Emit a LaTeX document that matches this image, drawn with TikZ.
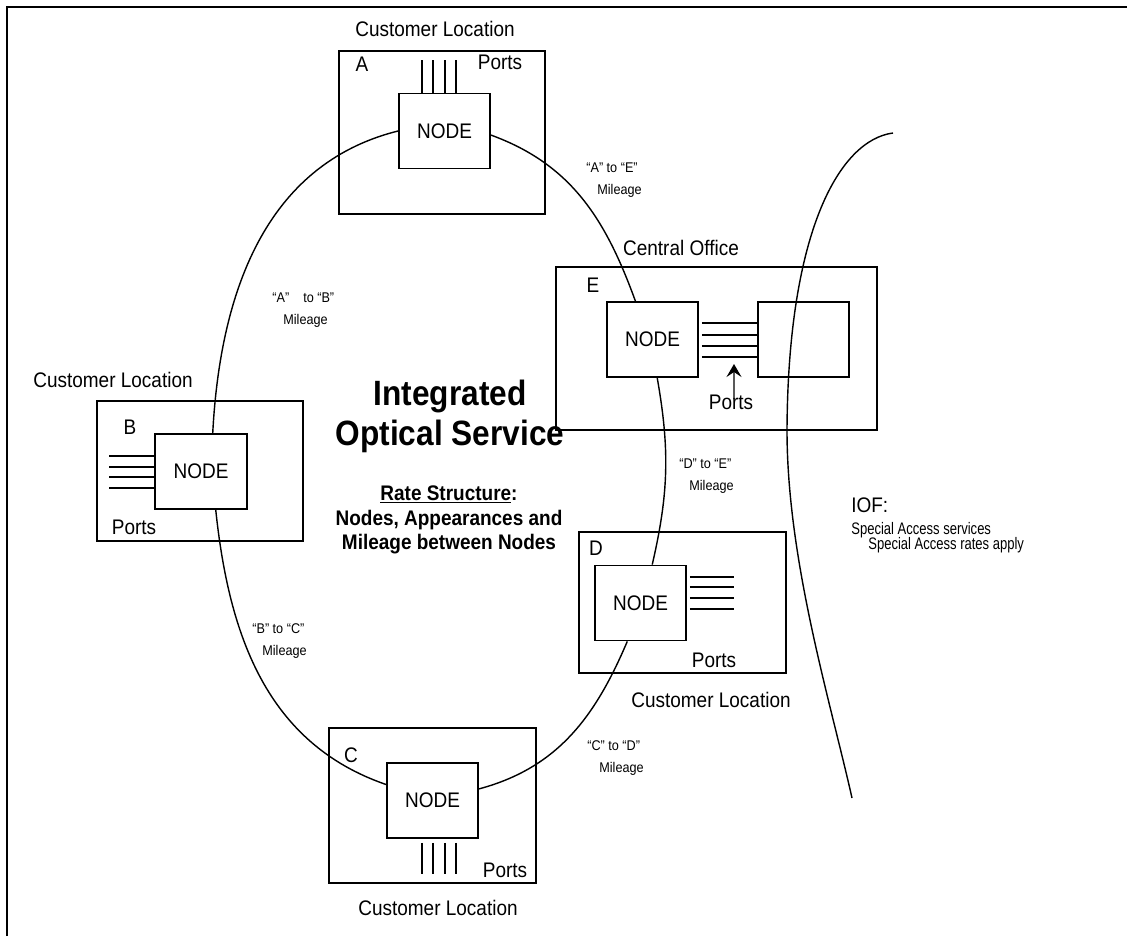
\documentclass[tikz,border=0pt]{standalone}
\usepackage{fontspec}
\setmainfont{Liberation Sans}[FakeStretch=0.9]
\newfontfamily\iofsmall{Liberation Sans}[FakeStretch=0.78]
\newcommand\tightlines{\lineskiplimit=-20pt\relax}
\usetikzlibrary{arrows.meta}
\tikzset{
  site_box/.style = {rectangle, draw=black, line width=1pt, inner sep=0pt},% customer site / office outline
  node_box/.style = {rectangle, draw=black, fill=white, line width=1pt, inner sep=0pt,
    minimum width=18.2mm, minimum height=15mm, font=\fontsize{12}{14}\selectfont},% NODE
  txt/.style = {inner sep=0pt, anchor=base, font=\fontsize{12}{14}\selectfont},% plain labels
  mil_lbl/.style = {inner sep=0pt, align=left, anchor=north west,
    font=\fontsize{8}{12.8}\selectfont},% mileage between two nodes
  port_ln/.style = {line width=1pt},% port appearances
  ring/.style = {line width=0.8pt}% optical ring
}

\begin{document}
\begin{tikzpicture}[x=0.2mm, y=0.2mm, >={Stealth[length=2.6mm,width=3mm,inset=1mm]}]
  \useasboundingbox (0,0) rectangle (1127,936);
  \draw[line width=1pt] (7,0) -- (7,929) -- (1127,929);

  % sites
  \node[site_box, minimum width=41.2mm, minimum height=32.6mm] (sA) at (442,803.5) {};
  \node[site_box, minimum width=41.2mm, minimum height=28mm] (sB) at (200,465) {};
  \node[site_box, minimum width=41.4mm, minimum height=31mm] (sC) at (432.5,130.5) {};
  \node[site_box, minimum width=41.4mm, minimum height=28.2mm] (sD) at (682.5,333.5) {};
  \node[site_box, minimum width=64.2mm, minimum height=32.6mm] (sE) at (716.5,587.5) {};

  % nodes
  \node[node_box] (nA) at (444.5,805) {NODE};
  \node[node_box, minimum width=18.4mm] (nB) at (201,464.5) {NODE};
  \node[node_box] (nC) at (432.5,135.5) {NODE};
  \node[node_box] (nD) at (640.5,333) {NODE};
  \node[node_box] (nE) at (652.5,596.5) {NODE};
  \node[node_box] (nE2) at (803.5,596.5) {};

  % ports
  \foreach \dx in {-22.5,-11.5,0.5,11.5}
    \draw[port_ln] ([xshift=\dx*0.2mm]nA.north) -- ++(0,33);
  \foreach \dy in {15.5,4.5,-5.5,-16.5}
    \draw[port_ln] ([yshift=\dy*0.2mm]nB.west) -- ++(-45,0);
  \foreach \dx in {-10.5,0.5,12.5,23.5}
    \draw[port_ln] ([xshift=\dx*0.2mm,yshift=-0.8mm]nC.south) -- ++(0,-31);
  \foreach \dy in {26,16,5,-6}
    \draw[port_ln] ([xshift=0.6mm,yshift=\dy*0.2mm]nD.east) -- ++(44,0);
  \foreach \dy in {16.5,4.5,-6.5,-17.5}
    \draw[port_ln] ([xshift=0.6mm,yshift=\dy*0.2mm]nE.east) -- ([yshift=\dy*0.2mm]nE2.west);

  % ring
  \draw[ring] (nA.180) to[out=194,in=87] (nB.73);
  \draw[ring] (nB.-69) to[out=-84,in=161] (nC.161);
  \draw[ring] (nC.14) to[out=15,in=247] (nD.-109);
  \draw[ring] (nD.73) to[out=77,in=-80] (nE.-83);
  \draw[ring] (nE.114) to[out=110,in=-20] (nA.-5);

  % IOF boundary
  \coordinate (iofTop) at (893,803);
  \coordinate (iofMid) at (787,506);
  \coordinate (iofBot) at (852,138);
  \draw[ring] (iofTop) .. controls (840,796) and (788,706) .. (iofMid)
    .. controls (787,376) and (830,236) .. (iofBot);

  % labels
  \node[txt] (cA) at (435,899) {Customer Location};
  \node[txt] (lA) at (362,864) {A};
  \node[txt] (pA) at (500,866) {Ports};
  \node[txt] (cE) at (681,680) {Central Office};
  \node[txt] (lE) at (593,643) {E};
  \node[txt] (pE) at (731,526) {Ports};
  \node[txt] (cB) at (113,548) {Customer Location};
  \node[txt] (lB) at (130,501) {B};
  \node[txt] (pB) at (134,401) {Ports};
  \node[txt] (lD) at (596,380) {D};
  \node[txt] (pD) at (714,269) {Ports};
  \node[txt] (cD) at (711,229) {Customer Location};
  \node[txt] (lC) at (351,174) {C};
  \node[txt] (pC) at (505,59) {Ports};
  \node[txt] (cC) at (438,21) {Customer Location};

  \coordinate (tipE) at (734,572);
  \draw[->, line width=0.8pt] ([xshift=0.6mm,yshift=-0.8mm]pE.north) -- (tipE);

  \node[mil_lbl] (mAE) at (586,774) {“A” to “E”\\\hspace*{2.2mm}Mileage};
  \node[mil_lbl] (mAB) at (272,644) {“A”\quad to “B”\\\hspace*{2.2mm}Mileage};
  \node[mil_lbl] (mDE) at (679,478) {“D” to “E”\\\hspace*{2mm}Mileage};
  \node[mil_lbl] (mBC) at (252,313) {“B” to “C”\\\hspace*{2mm}Mileage};
  \node[mil_lbl] (mCD) at (587,196) {“C” to “D”\\\hspace*{2.4mm}Mileage};

  \node[inner sep=0pt, anchor=north, align=center,
    font=\bfseries\fontsize{20}{22.7}\selectfont] (title) at (450,556)
    {Integrated\\Optical Service};
  \node[inner sep=0pt, anchor=north, align=center,
    font=\bfseries\fontsize{12}{14.2}\selectfont] (rate) at (449,451)
    {\underline{Rate Structure}:\\Nodes, Appearances and\\Mileage between Nodes};

  \node[txt, anchor=base west] (iof) at (851,423) {IOF:};
  \node[inner sep=0pt, anchor=north west, align=left,
    font=\iofsmall\fontsize{9.5}{8.6}\selectfont\tightlines] (sa) at (851,414)
    {Special Access services\\\hspace*{3.4mm}Special Access rates apply};
\end{tikzpicture}
\end{document}
